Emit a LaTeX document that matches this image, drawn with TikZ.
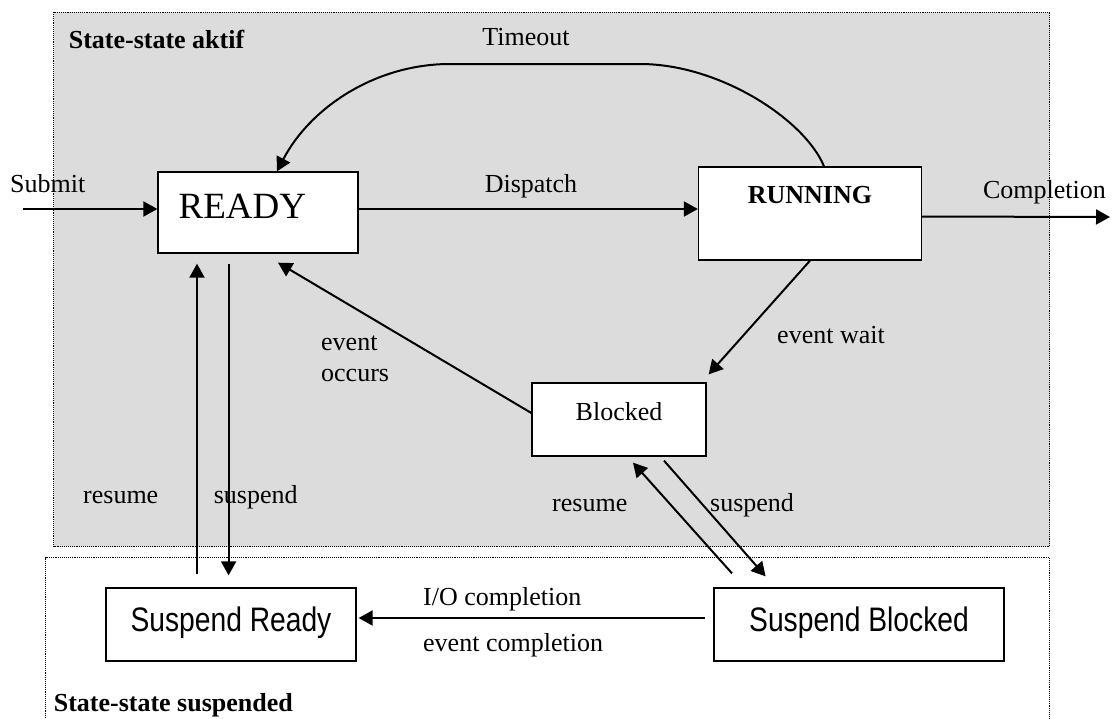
\documentclass[tikz,border=0pt]{standalone}
\usepackage{fontspec}
\setmainfont{Liberation Serif}
\newfontfamily\narrowsans[FakeStretch=0.83]{Liberation Sans}
\usetikzlibrary{arrows.meta}
\definecolor{bggray}{RGB}{220,220,220}
\newcommand\lblfont{\fontsize{26}{31.7}\selectfont}
\begin{document}
\begin{tikzpicture}[x=1pt,y=-1pt,
  box/.style={draw, line width=1.3pt, fill=white, inner sep=0pt},
  sbox/.style={box, minimum height=73pt, font=\narrowsans\fontsize{34}{40}\selectfont, text height=25pt, text depth=10.5pt},
  arr/.style={line width=2pt, -{Triangle[length=14pt,width=15pt]}},
  lbl/.style={font=\lblfont, inner sep=0pt},
  zone/.style={line width=0.9pt, densely dotted}]
\useasboundingbox (0,0) rectangle (1116,718);
% zones
\draw[zone, fill=bggray] (53.6,12) rectangle (1049.6,546.7);
\draw[zone] (45.7,718) -- (45.7,557.7) -- (1049.6,557.7) -- (1049.6,718);
\node[lbl, font=\bfseries\lblfont, anchor=base west] (aktif) at (68.6,48) {State-state aktif};
\node[lbl, font=\bfseries\lblfont, anchor=base west] (susp) at (53.6,711.7) {State-state suspended};
% states
\node[box, inner xsep=20.6pt, text width=158.8pt, align=left, minimum height=81pt,
      font=\fontsize{37}{40}\selectfont, text height=25pt, text depth=14pt] (ready) at (258,212.5) {READY};
\node[box, minimum width=223pt, minimum height=93pt, font=\bfseries\lblfont,
      text height=18pt, text depth=39pt] (running) at (810,213.5) {RUNNING};
\node[box, minimum width=174pt, minimum height=73pt, font=\lblfont,
      text height=18pt, text depth=17pt] (blocked) at (619,419.5) {Blocked};
\node[sbox, minimum width=250pt] (sready) at (231,624.5) {Suspend Ready};
\node[sbox, minimum width=290pt] (sblocked) at (859,624.5) {Suspend Blocked};
% free ends
\coordinate (subst) at (23,209);
\coordinate (compend) at (1110,217);
% connectors
\draw[arr] (subst) -- ([yshift=3.5pt]ready.west);
\draw[arr] ([yshift=3.5pt]ready.east) -- ([yshift=4.5pt]running.west);
\draw[arr] ([yshift=-3pt]running.east) -- (compend);
\draw[arr] ([xshift=14pt]running.north) .. controls (805,120) and (720,64) .. (640,64)
           -- (450,64) .. controls (375,64) and (310,108) .. ([xshift=19pt]ready.north);
\draw[arr] (running.south) -- ([shift={(2pt,8pt)}]blocked.north east);
\draw[arr] ([yshift=6.5pt]blocked.west) -- ([shift={(20pt,-9pt)}]ready.south);
\draw[arr] ([shift={(-34pt,13pt)}]sready.north) -- ([shift={(-61pt,-10pt)}]ready.south);
\draw[arr] ([shift={(-29.4pt,-10pt)}]ready.south) -- ([shift={(-2.4pt,12pt)}]sready.north);
\draw[arr] ([shift={(-127pt,14pt)}]sblocked.north) -- ([shift={(14pt,-6pt)}]blocked.south);
\draw[arr] ([shift={(45pt,-4pt)}]blocked.south) -- ([shift={(-93.4pt,11pt)}]sblocked.north);
\draw[arr] ([shift={(-8pt,6.5pt)}]sblocked.west) -- ([shift={(2pt,6.5pt)}]sready.east);
% labels
\node[lbl, anchor=base] (timeout) at (526,45) {Timeout};
\node[lbl, anchor=base west] (submit) at (10,192) {Submit};
\node[lbl, anchor=base west] (dispatch) at (484.6,192) {Dispatch};
\node[lbl, anchor=base west] (completion) at (982.8,198) {Completion};
\node[lbl, anchor=base west] (evwait) at (777,343) {event wait};
\node[lbl, anchor=base west, align=left] (evocc) at (321,381.7) {event\\occurs};
\node[lbl, anchor=base west] (resl) at (83,503) {resume};
\node[lbl, anchor=base west] (susl) at (213.6,503) {suspend};
\node[lbl, anchor=base west] (resr) at (552,511.7) {resume};
\node[lbl, anchor=base west] (susr) at (710,511.7) {suspend};
\node[lbl, anchor=base west] (iocomp) at (423,605) {I/O completion};
\node[lbl, anchor=base west] (evcomp) at (423,651.7) {event completion};
\end{tikzpicture}
\end{document}
